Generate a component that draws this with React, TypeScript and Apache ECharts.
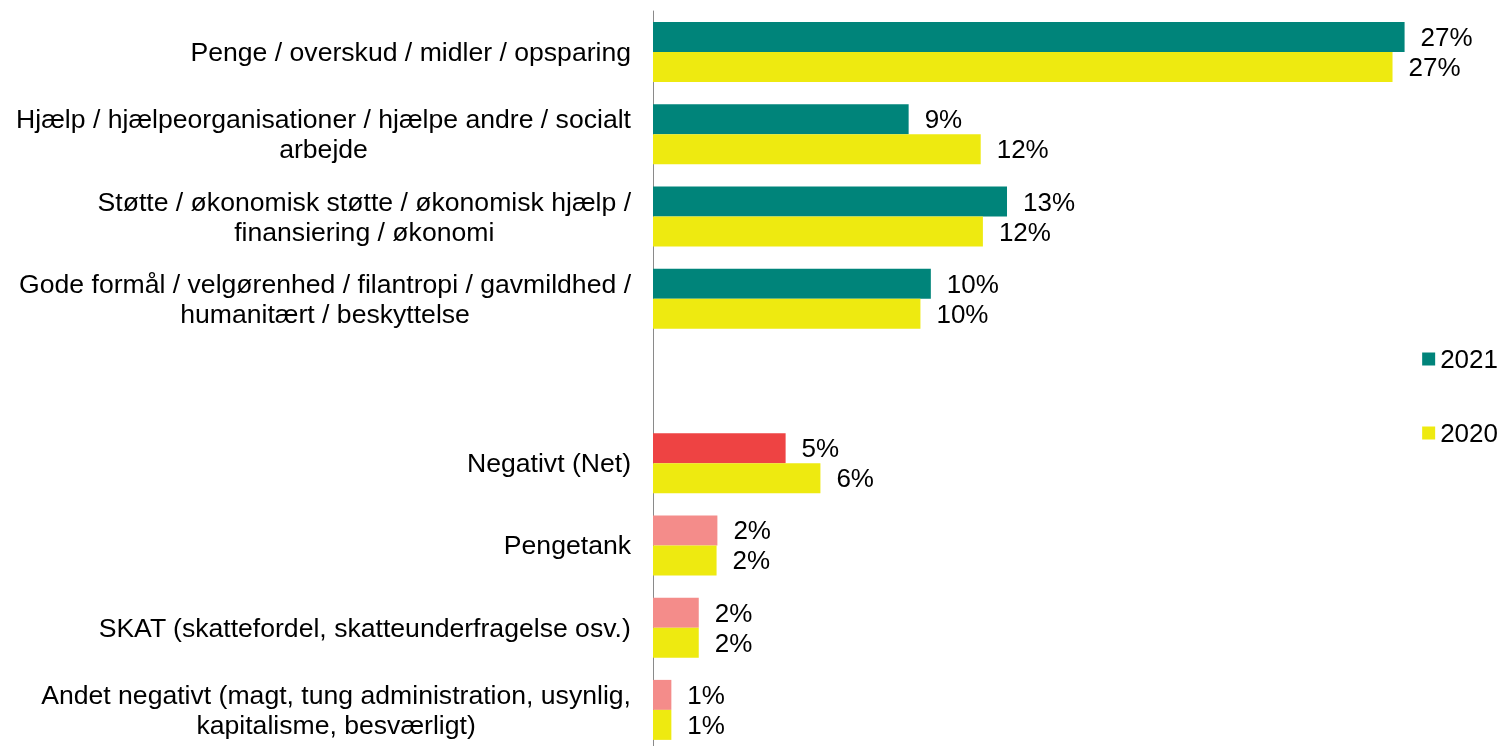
import React, { useEffect, useRef } from "react";
import * as echarts from "echarts";

const categories = [
  "Penge / overskud / midler / opsparing",
  "Hjælp / hjælpeorganisationer / hjælpe andre / socialt\narbejde",
  "Støtte / økonomisk støtte / økonomisk hjælp /\nfinansiering / økonomi",
  "Gode formål / velgørenhed / filantropi / gavmildhed /\nhumanitært / beskyttelse",
  "",
  "Negativt (Net)",
  "Pengetank",
  "SKAT (skattefordel, skatteunderfragelse osv.)",
  "Andet negativt (magt, tung administration, usynlig,\nkapitalisme, besværligt)",
];

const values2021: (number | null)[] = [27.43, 9.33, 12.92, 10.14, null, 4.84, 2.35, 1.67, 0.67];
const values2020: (number | null)[] = [26.99, 11.96, 12.04, 9.76, null, 6.11, 2.32, 1.67, 0.67];

const seriesNames = ["2021", "2020"];

const TEAL = "#00847A";
const YELLOW = "#EEEA10";
const RED = "#EE4343";
const PINK = "#F48C8A";
const colors2021 = [TEAL, TEAL, TEAL, TEAL, TEAL, RED, PINK, PINK, PINK];

const FONT = "'Liberation Sans', Arial, sans-serif";

export default function App() {
  const ref = useRef<HTMLDivElement>(null);
  useEffect(() => {
    if (!ref.current) return;
    const chart = echarts.init(ref.current, undefined, { renderer: "svg" });
    const label = {
      show: true,
      position: "right",
      distance: 16,
      fontSize: 26,
      fontFamily: FONT,
      color: "#000",
      formatter: (p: any) => (p.value == null ? "" : Math.round(p.value) + "%"),
    };
    chart.setOption({
      animation: false,
      textStyle: { fontFamily: FONT },
      grid: { left: 653, right: 26, top: 11, bottom: 0, containLabel: false },
      legend: {
        orient: "vertical",
        right: -2,
        top: 341,
        itemWidth: 13,
        itemHeight: 13,
        itemGap: 48,
        icon: "rect",
        textStyle: { fontSize: 26, lineHeight: 26, color: "#000", fontFamily: FONT },
        data: seriesNames,
      },
      xAxis: {
        type: "value",
        min: 0,
        max: 30,
        show: false,
        splitLine: { show: false },
      },
      yAxis: {
        type: "category",
        inverse: true,
        data: categories,
        axisTick: { show: false },
        axisLine: { show: true, lineStyle: { color: "#8A8A8A", width: 1 } },
        axisLabel: {
          margin: 22,
          formatter: (v: string) =>
            v === "" ? "" : v.split("\n").map((l) => `{c|${l}}`).join("\n"),
          rich: {
            c: {
              align: "center",
              fontSize: 26.6,
              lineHeight: 30,
              color: "#000",
              fontFamily: FONT,
            },
          },
        },
      },
      series: [
        {
          name: seriesNames[0],
          type: "bar",
          barWidth: 30,
          barGap: "0%",
          itemStyle: { color: TEAL },
          label,
          data: values2021.map((v, i) => ({ value: v, itemStyle: { color: colors2021[i] } })),
        },
        {
          name: seriesNames[1],
          type: "bar",
          barWidth: 30,
          barGap: "0%",
          itemStyle: { color: YELLOW },
          label,
          data: values2020,
        },
      ],
    });
    return () => chart.dispose();
  }, []);
  return (
    <div
      ref={ref}
      style={{ position: "fixed", left: 0, top: 0, width: 1501, height: 751 }}
    />
  );
}
